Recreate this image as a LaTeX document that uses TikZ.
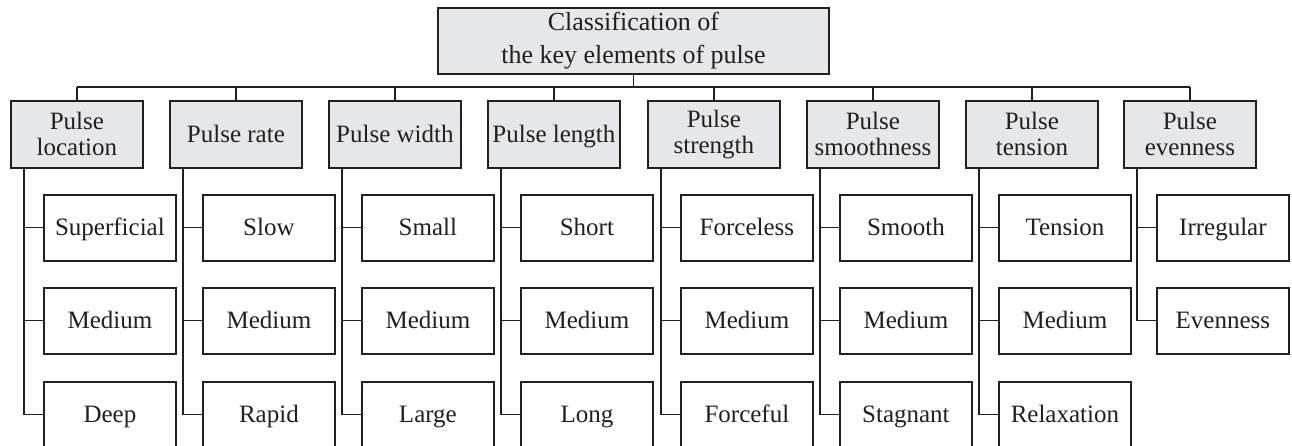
\documentclass[tikz,border=0pt]{standalone}
\usepackage{fontspec}
\setmainfont{Liberation Serif}
\definecolor{boxgray}{HTML}{E6E7E9}
\definecolor{ink}{HTML}{231F20}
\begin{document}
\begin{tikzpicture}[x=1pt,y=-1pt,
  catbox/.style={draw=ink,line width=1.8pt,fill=boxgray,minimum width=132pt,minimum height=67pt,anchor=north west,inner sep=0pt,align=center,font=\fontsize{25}{26}\selectfont,text=ink},
  onecat/.style={catbox,text height=18pt,text depth=2pt},
  topbox/.style={draw=ink,line width=1.8pt,fill=boxgray,minimum width=391pt,minimum height=66pt,anchor=north west,inner sep=0pt,align=center,font=\fontsize{26}{33}\selectfont,text=ink},
  leafbox/.style={draw=ink,line width=1.8pt,fill=white,minimum width=132pt,minimum height=66pt,anchor=north west,inner sep=0pt,align=center,font=\fontsize{25}{26}\selectfont,text=ink,text height=18pt,text depth=2pt},
  trunk/.style={draw=ink,line width=1.8pt},
  stub/.style={draw=ink,line width=1pt},
  bus/.style={draw=ink,line width=1.2pt}]
\useasboundingbox (0,0) rectangle (1292,445);
\clip (0,0) rectangle (1292,445);
\node[topbox] (top) at (437,7) {Classification of\\the key elements of pulse};
\coordinate (busy) at (0,87);
% categories
\node[catbox] (c1) at (10,100) {Pulse\\location};
\node[onecat] (c2) at (169,100) {Pulse rate};
\node[onecat] (c3) at (328,100) {Pulse width};
\node[onecat] (c4) at (487,100) {Pulse length};
\node[catbox] (c5) at (647,100) {Pulse\\strength};
\node[catbox] (c6) at (806,100) {Pulse\\smoothness};
\node[catbox] (c7) at (965,100) {Pulse\\tension};
\node[catbox] (c8) at (1123,100) {Pulse\\evenness};
% leaves
\foreach \i/\x/\a/\b/\c in {1/43/Superficial/Medium/Deep,2/202/Slow/Medium/Rapid,3/361/Small/Medium/Large,4/520/Short/Medium/Long,5/680/Forceless/Medium/Forceful,6/839/Smooth/Medium/Stagnant,7/998/Tension/Medium/Relaxation}{
  \node[leafbox] (l\i a) at (\x,194) {\a};
  \node[leafbox] (l\i b) at (\x,287) {\b};
  \node[leafbox] (l\i c) at (\x,381) {\c};
}
\node[leafbox] (l8a) at (1156,194) {Irregular};
\node[leafbox] (l8b) at (1156,287) {Evenness};
% top connectors
\draw[trunk] (top.south) -- (top.south |- busy);
\draw[bus] (c1.north |- busy) -- (c8.north |- busy);
\foreach \i in {1,...,8}{\draw[bus] (c\i.north) -- (c\i.north |- busy);}
% trunks
\foreach \i in {1,...,7}{
  \coordinate (t\i) at ([xshift=14pt]c\i.south west);
  \draw[trunk] (t\i) -- (t\i |- l\i c.west);
  \draw[stub] (t\i |- l\i a.west) -- (l\i a.west);
  \draw[stub] (t\i |- l\i b.west) -- (l\i b.west);
  \draw[stub] (t\i |- l\i c.west) -- (l\i c.west);
}
\coordinate (t8) at ([xshift=14pt]c8.south west);
\draw[trunk] (t8) -- (t8 |- l8b.west);
\draw[stub] (t8 |- l8a.west) -- (l8a.west);
\draw[stub] (t8 |- l8b.west) -- (l8b.west);
\end{tikzpicture}
\end{document}
